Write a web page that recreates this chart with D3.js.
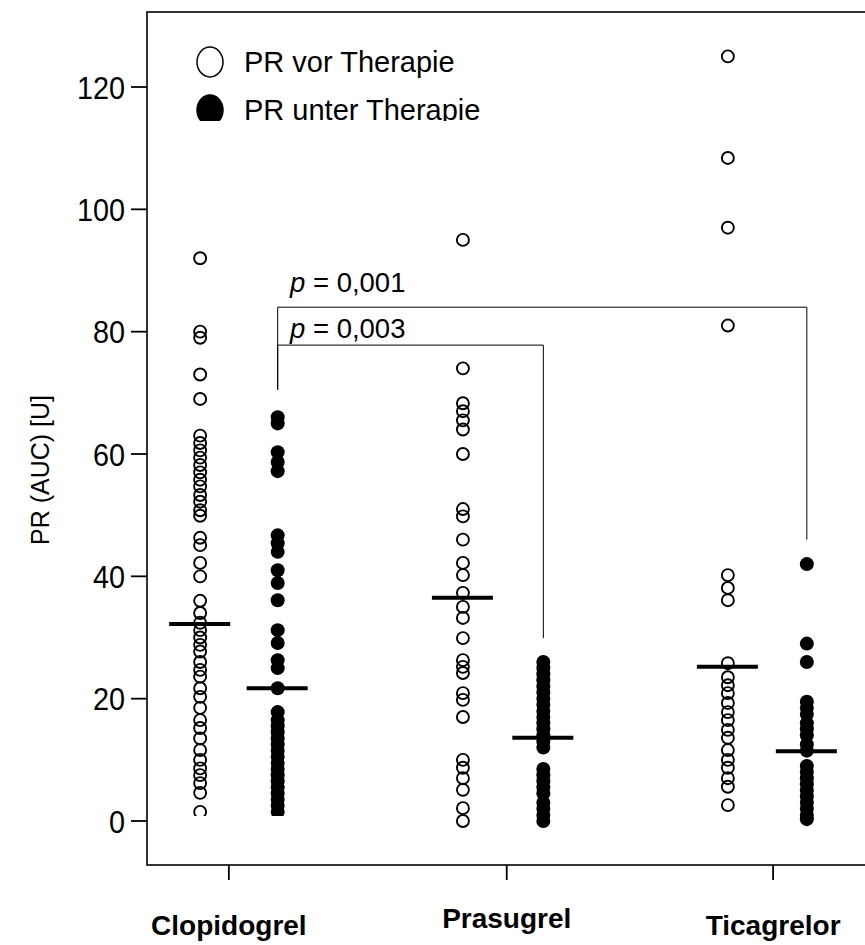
<!DOCTYPE html>
<html>
<head>
<meta charset="utf-8">
<script src="https://cdn.jsdelivr.net/npm/d3@7"></script>
<style>
  body { margin: 0; background: #fff; }
  text { font-family: "Liberation Sans", Arial, sans-serif; }
</style>
</head>
<body>
<svg id="chart" width="865" height="945"></svg>
<script>
// groups and columns
var groups = ["Clopidogrel", "Prasugrel", "Ticagrelor"];
var yTicks = [0, 20, 40, 60, 80, 100, 120];

// PR (AUC) values
var clopiVor = [92, 80, 79, 73, 69, 63, 61.8, 60.6, 59.4, 58.2, 57, 55.8, 54.7, 53.3, 52.2, 50.8, 49.9,
    46.3, 45.1, 42.2, 40, 36, 34, 32.4, 31.2, 30, 28.8, 27.7, 26, 24.7, 23.6, 21.7, 20.3, 18.5,
    16.5, 15.2, 13.5, 11.6, 10, 8.6, 7.5, 6.2, 4.6, 1.5];
var clopiUnter = [66, 65, 60.3, 58.7, 57.2, 46.7, 45.4, 44, 41, 38.9, 36.1, 31.2, 29.1, 26.3, 25,
    21.7, 17.8, 16.5, 15.5, 14.5, 13.5, 12.5, 11.5, 10.5, 9.5, 8.5, 7.5, 6.5, 5.5, 4.5, 3.5, 2.5, 1.5];
var prasVor = [95, 74, 68.3, 67, 65.5, 64, 60, 51, 49.8, 46, 42.2, 40.2, 37.3, 35, 33.2, 29.9,
    26.3, 25.2, 24.2, 20.9, 19.8, 17, 10, 8.7, 7, 5.1, 2.1, 0];
var prasUnter = [26, 25, 24, 23, 22, 21, 20, 19, 18, 17, 16, 15, 14, 13, 12,
    8.5, 7.5, 6.5, 5.5, 4.5, 3, 2, 1, 0];
var ticaVor = [125, 108.4, 97, 81, 40.2, 38.1, 36.1, 25.8, 23.5, 22.2, 20.9, 19.3, 17.8, 16.5,
    14.9, 13.6, 11.6, 10, 8.7, 7, 5.6, 2.6];
var ticaUnter = [42, 29, 26, 19.5, 18.5, 17.5, 16, 15, 14, 12.5, 11.5,
    9, 8, 7, 6, 5, 4, 3, 2, 1, 0.3];

// medians per column
var medians = [32.2, 21.7, 36.5, 13.6, 25.2, 11.4];

// layout (x in scale units, 0..10)
var colX = [0.74, 1.82, 4.40, 5.52, 8.09, 9.19];
var groupX = [1.14, 5.01, 8.72];
var columns = [clopiVor, clopiUnter, prasVor, prasUnter, ticaVor, ticaUnter];

var svg = d3.select("#chart");
var box = { left: 147, right: 870, top: 12, bottom: 865 };

var x = d3.scaleLinear().domain([0, 10]).range([box.left, 865]);
var y = d3.scaleLinear().domain([0, 120]).range([821, 87]);

// frame
svg.append("rect")
    .attr("x", box.left).attr("y", box.top)
    .attr("width", box.right - box.left).attr("height", box.bottom - box.top)
    .attr("fill", "none").attr("stroke", "#000").attr("stroke-width", 1.6);

// y axis ticks + labels
var yAxis = svg.append("g");
yAxis.selectAll("line.ytick").data(yTicks).enter()
    .append("line")
    .attr("x1", box.left - 16).attr("x2", box.left)
    .attr("y1", function (d) { return y(d); })
    .attr("y2", function (d) { return y(d); })
    .attr("stroke", "#000").attr("stroke-width", 1.8);
yAxis.selectAll("text").data(yTicks).enter()
    .append("text")
    .attr("transform", function (d) { return "translate(125," + (y(d) + 11.5) + ") scale(0.9,1)"; })
    .attr("text-anchor", "end")
    .attr("font-size", 32)
    .text(function (d) { return d; });

svg.append("text")
    .attr("transform", "translate(49," + 470 + ") rotate(-90)")
    .attr("text-anchor", "middle")
    .attr("font-size", 25)
    .text("PR (AUC) [U]");

// x ticks + group labels
svg.selectAll("line.xtick").data(groupX).enter()
    .append("line")
    .attr("x1", function (d) { return x(d); })
    .attr("x2", function (d) { return x(d); })
    .attr("y1", box.bottom).attr("y2", box.bottom + 15)
    .attr("stroke", "#000").attr("stroke-width", 1.8);
svg.selectAll("text.glabel").data(groups).enter()
    .append("text")
    .attr("class", "glabel")
    .attr("x", function (d, i) { return x(groupX[i]); })
    .attr("y", function (d, i) { return i === 1 ? 928 : 935; })
    .attr("text-anchor", "middle")
    .attr("font-size", 28)
    .attr("font-weight", "bold")
    .text(function (d) { return d; });

// significance brackets
function bracket(c1, c2, level, leftEnd, rightEnd, label, labelY) {
    var g = svg.append("g");
    g.append("path")
        .attr("d", "M" + x(colX[c1]) + "," + y(leftEnd) +
            "V" + y(level) + "H" + x(colX[c2]) + "V" + y(rightEnd))
        .attr("fill", "none").attr("stroke", "#000").attr("stroke-width", 1);
    var t = g.append("text")
        .attr("x", 290).attr("y", labelY)
        .attr("font-size", 27.5);
    t.append("tspan").attr("font-style", "italic").text("p");
    t.append("tspan").text(" = " + label);
}
bracket(1, 5, 84, 70.5, 46, "0,001", 292);
bracket(1, 3, 77.8, 70.5, 29.9, "0,003", 338);

// points (Clopidogrel columns are cut just above zero in the original)
var clopClip = svg.append("clipPath").attr("id", "clopclip");
clopClip.append("rect").attr("x", 0).attr("y", 0).attr("width", 865).attr("height", 816);
columns.forEach(function (vals, ci) {
    var filled = ci % 2 === 1;
    var g = svg.append("g");
    if (ci < 2) g.attr("clip-path", "url(#clopclip)");
    g.selectAll("circle").data(vals).enter()
        .append("circle")
        .attr("cx", x(colX[ci]))
        .attr("cy", function (d) { return y(d); })
        .attr("r", filled ? 7 : 6)
        .attr("fill", filled ? "#000" : "none")
        .attr("stroke", "#000")
        .attr("stroke-width", filled ? 0 : 1.9);
});

// median bars
svg.append("g").selectAll("line").data(medians).enter()
    .append("line")
    .attr("x1", function (d, i) { return x(colX[i]) - 31; })
    .attr("x2", function (d, i) { return x(colX[i]) + 30; })
    .attr("y1", function (d) { return y(d); })
    .attr("y2", function (d) { return y(d); })
    .attr("stroke", "#000").attr("stroke-width", 4);

// legend
var clip = svg.append("clipPath").attr("id", "legclip");
clip.append("rect").attr("x", 0).attr("y", 0).attr("width", 865).attr("height", 121);
var leg = svg.append("g").attr("clip-path", "url(#legclip)");
var legItems = ["PR vor Therapie", "PR unter Therapie"];
leg.selectAll("ellipse").data(legItems).enter()
    .append("ellipse")
    .attr("cx", 210)
    .attr("cy", function (d, i) { return 62 + i * 48; })
    .attr("rx", 13).attr("ry", 15)
    .attr("fill", function (d, i) { return i ? "#000" : "#fff"; })
    .attr("stroke", "#000").attr("stroke-width", 1.5);
leg.selectAll("text").data(legItems).enter()
    .append("text")
    .attr("x", 244)
    .attr("y", function (d, i) { return 72 + i * 48; })
    .attr("font-size", 29)
    .text(function (d) { return d; });
</script>
</body>
</html>
